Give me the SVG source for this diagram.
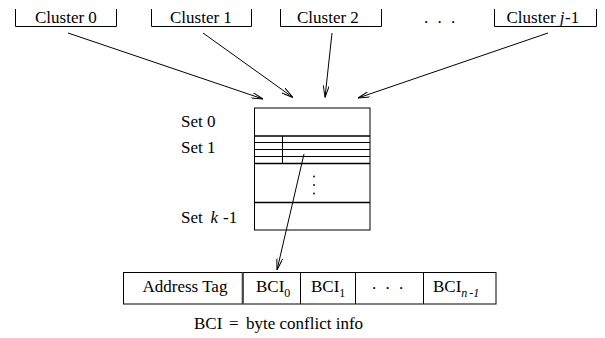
<svg xmlns="http://www.w3.org/2000/svg" width="605" height="338" viewBox="0 0 605 338" font-family="'Liberation Serif', 'Times New Roman', Times, serif" font-size="17">
  <style>
    .it { font-style: italic; }
    .sub { font-size: 12px; }
    .ln { stroke: #000; stroke-width: 1; fill: none; }
    .thick { stroke: #000; stroke-width: 1.5; fill: none; }
    .arrow { stroke: #000; stroke-width: 1; fill: none; marker-end: url(#vee); }
  </style>
  <defs>
    <marker id="vee" viewBox="0 0 12 6" refX="12" refY="3" markerWidth="12" markerHeight="6" markerUnits="userSpaceOnUse" orient="auto">
      <path d="M0,0 L12,3 L0,6" fill="none" stroke="#000" stroke-width="1"/>
    </marker>
  </defs>
  <rect width="605" height="338" fill="#fff"/>

  <!-- cluster tabs: open-topped brackets -->
  <g id="cluster0">
    <path class="ln" d="M15.5,9 V26.5 H116.5 V9"/>
    <text x="35" y="22.5">Cluster 0</text>
  </g>
  <g id="cluster1">
    <path class="ln" d="M151.5,9 V26.5 H251.5 V9"/>
    <text x="170" y="22.5">Cluster 1</text>
  </g>
  <g id="cluster2">
    <path class="ln" d="M280.5,9 V26.5 H381.5 V9"/>
    <text x="297" y="22.5">Cluster 2</text>
  </g>
  <g id="cluster-dots">
    <text x="424 437.5 451" y="22.5">...</text>
  </g>
  <g id="clusterJ">
    <path class="ln" d="M494.5,9 V26.5 H596.5 V9"/>
    <text x="506.5" y="22.5">Cluster <tspan class="it">j</tspan><tspan x="565">-1</tspan></text>
  </g>

  <!-- set-associative array -->
  <g id="sets">
    <rect class="ln" x="254.5" y="108" width="115.5" height="122"/>
    <line class="thick" x1="254.5" y1="136" x2="370" y2="136"/>
    <line class="ln" x1="254.5" y1="142.5" x2="370" y2="142.5"/>
    <line class="ln" x1="254.5" y1="149.5" x2="370" y2="149.5"/>
    <line class="ln" x1="254.5" y1="156.5" x2="370" y2="156.5"/>
    <line class="thick" x1="254.5" y1="163.5" x2="370" y2="163.5"/>
    <line class="thick" x1="254.5" y1="202.5" x2="370" y2="202.5"/>
    <line class="ln" x1="282.5" y1="136" x2="282.5" y2="163.5"/>
    <circle cx="314" cy="176.5" r="0.9"/>
    <circle cx="314" cy="185" r="0.9"/>
    <circle cx="314" cy="193.5" r="0.9"/>
    <text x="181" y="127">Set 0</text>
    <text x="181" y="153">Set 1</text>
    <text x="181" y="223">Set <tspan class="it" x="210.5">k</tspan><tspan x="223">-1</tspan></text>
  </g>

  <!-- tag entry record -->
  <g id="record">
    <rect class="ln" x="123.5" y="272.5" width="372.5" height="31.5"/>
    <line x1="242.8" y1="272.5" x2="242.8" y2="304" stroke="#444" stroke-width="2.2"/>
    <line class="ln" x1="300.5" y1="272.5" x2="300.5" y2="304"/>
    <line class="ln" x1="355.5" y1="272.5" x2="355.5" y2="304"/>
    <line class="ln" x1="423.5" y1="272.5" x2="423.5" y2="304"/>
    <text x="142.5" y="292">Address Tag</text>
    <text x="256" y="292">BCI<tspan class="sub" dy="5">0</tspan></text>
    <text x="311" y="292">BCI<tspan class="sub" dy="5">1</tspan></text>
    <text x="372 385.5 399" y="289">...</text>
    <text x="433" y="292">BCI<tspan class="sub it" dy="5">n</tspan><tspan class="sub it" dx="2">-1</tspan></text>
  </g>
  <g id="legend">
    <text x="194" y="329">BCI<tspan x="229">=</tspan><tspan x="246">byte conflict info</tspan></text>
  </g>

  <!-- connectors -->
  <g id="connectors">
    <line class="arrow" x1="68" y1="33" x2="263" y2="99"/>
    <line class="arrow" x1="203" y1="33" x2="293" y2="97.5"/>
    <line class="arrow" x1="332" y1="33" x2="325" y2="97.5"/>
    <line class="arrow" x1="548" y1="33" x2="358" y2="98"/>
    <line class="arrow" x1="304" y1="154" x2="277" y2="270"/>
  </g>
</svg>
